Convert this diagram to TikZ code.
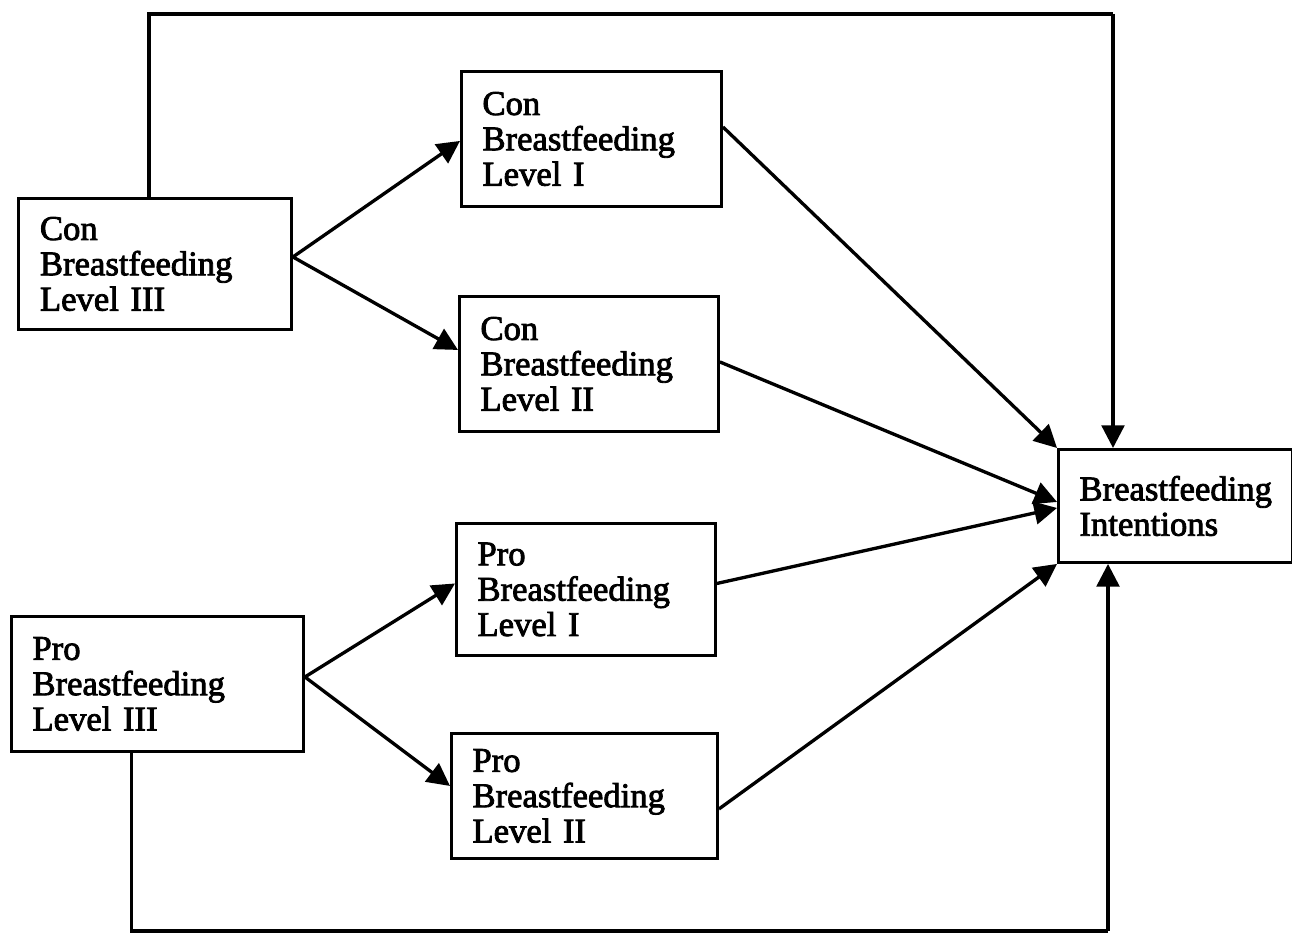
\documentclass[tikz,border=0pt]{standalone}
\usepackage{fontspec}
\setmainfont{Liberation Serif}
\newfontfamily\lblfont{Liberation Serif}[FakeBold=2.4]
\usetikzlibrary{arrows.meta,calc}
\begin{document}
\begin{tikzpicture}[x=0.75pt,y=-0.75pt,
  box/.style={draw,line width=2.2pt,anchor=north west,align=left,
    inner xsep=15.5pt,inner ysep=0pt,
    font=\lblfont\fontsize{26}{26.5}\selectfont},
  link/.style={line width=2.5pt,-{Triangle[length=17pt,width=17pt]}},
  wire/.style={line width=2.5pt}]
\useasboundingbox (0,0) rectangle (1292,937);

% variable boxes, placed by their top-left corners
\node[box,minimum width=273*0.75pt,minimum height=131*0.75pt,text width=230*0.75pt] (c3) at (17,197) {Con\\Breastfeeding\\Level III};
\node[box,minimum width=260*0.75pt,minimum height=135*0.75pt,text width=218*0.75pt] (c1) at (460,70) {Con\\Breastfeeding\\Level I};
\node[box,minimum width=259*0.75pt,minimum height=135*0.75pt,text width=217*0.75pt] (c2) at (458,295) {Con\\Breastfeeding\\Level II};
\node[box,minimum width=234*0.75pt,minimum height=113*0.75pt,text width=192*0.75pt] (bi) at (1057,448) {Breastfeeding\\Intentions};
\node[box,minimum width=259*0.75pt,minimum height=132*0.75pt,text width=217*0.75pt] (p1) at (455,522) {Pro\\Breastfeeding\\Level I};
\node[box,minimum width=292*0.75pt,minimum height=135*0.75pt,text width=250*0.75pt] (p3) at (10,615) {Pro\\Breastfeeding\\Level III};
\node[box,minimum width=266*0.75pt,minimum height=125*0.75pt,text width=224*0.75pt] (p2) at (450,732) {Pro\\Breastfeeding\\Level II};

% corners of the two long feedback lines
\coordinate (tr) at (1113,14);
\coordinate (br) at (1108,931);

% level III to levels I and II
\draw[link] ($(c3.east)+(0,-7)$) -- ($(c1.west)+(0,2)$);
\draw[link] ($(c3.east)+(0,-7)$) -- ($(c2.west)+(0,-14)$);
\draw[link] ($(p3.east)+(0,-7)$) -- ($(p1.west)+(0,-6)$);
\draw[link] ($(p3.east)+(0,-7)$) -- ($(p2.west)+(0,-10)$);

% levels I and II to intentions
\draw[link] ($(c1.east)+(0,-12)$) -- (bi.north west);
\draw[link] ($(c2.east)+(0,-2)$) -- ($(bi.west)+(0,-4)$);
\draw[link] ($(p1.east)+(0,-6)$) -- ($(bi.west)+(0,2)$);
\draw[link] ($(p2.east)+(0,13)$) -- (bi.south west);

% direct paths from level III to intentions
\draw[wire] ($(c3.north)+(-6,0)$) |- (tr);
\draw[link] (tr) -- (tr |- bi.north);
\draw[wire] ($(p3.south)+(-26,0)$) |- (br);
\draw[link] (br) -- (br |- bi.south);
\end{tikzpicture}
\end{document}
